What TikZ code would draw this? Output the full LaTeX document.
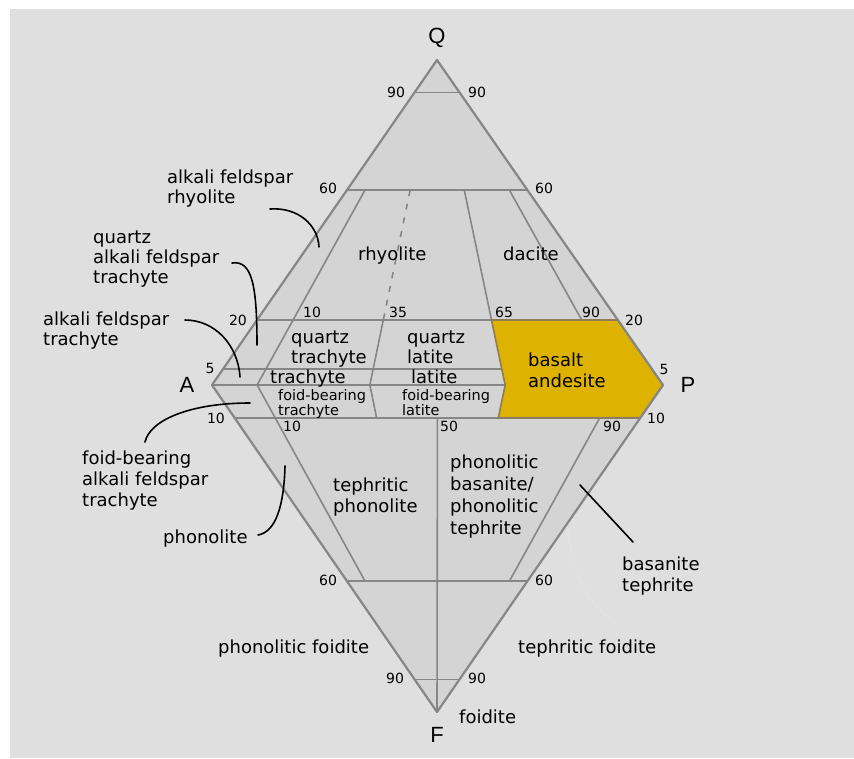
\documentclass[tikz,border=0pt]{standalone}
\usepackage{fontspec}
\setmainfont{DejaVu Sans}
\newfontfamily\vertexfont{Liberation Sans}
\usetikzlibrary{calc}
\definecolor{paper}{HTML}{DFDFDF}
\definecolor{field}{HTML}{D4D4D4}
\definecolor{rule}{HTML}{868686}
\definecolor{gold}{HTML}{DEB200}
\definecolor{goldrule}{HTML}{8C7D55}
\newcommand\mlstack[1]{\begin{tabular}[t]{@{}l@{}}#1\end{tabular}}

\begin{document}
\begin{tikzpicture}[x=1pt,y=-1pt,
  edge/.style={draw=rule, line width=2.2pt, line join=round},
  div/.style={draw=rule, line width=1.6pt},
  num/.style={font=\fontsize{14}{14}\selectfont, inner sep=0},
  lab/.style={font=\fontsize{18}{21}\selectfont, inner sep=0, anchor=base west},
  labtight/.style={font=\fontsize{18}{20}\selectfont, inner sep=0, anchor=base west},
  labwide/.style={font=\fontsize{18}{22}\selectfont, inner sep=0, anchor=base west},
  small/.style={font=\fontsize{14.5}{14}\selectfont, inner sep=0, anchor=base west},
  vtx/.style={font=\vertexfont\fontsize{22}{22}\selectfont, inner sep=0},
  lead/.style={draw=black, line width=1.6pt, line cap=round},
]
% canvas
\useasboundingbox (0,0) rectangle (854,758);
\fill[white] (0,0) rectangle (854,758);
\fill[paper] (10,9) rectangle (854,758);

% corners of the QAPF diamond
\coordinate (Q) at (437,60);
\coordinate (A) at (212,385);
\coordinate (P) at (663,385);
\coordinate (F) at (437,712);

% points on the A-P join for P/(A+P) ratios
\coordinate (b10) at ($(A)!0.10!(P)$);
\coordinate (b35) at ($(A)!0.35!(P)$);
\coordinate (b50) at ($(A)!0.50!(P)$);
\coordinate (b65) at ($(A)!0.65!(P)$);
\coordinate (b90) at ($(A)!0.90!(P)$);

% Q levels on the edges
\coordinate (q90L) at ($(Q)!0.10!(A)$);  \coordinate (q90R) at ($(Q)!0.10!(P)$);
\coordinate (q60L) at ($(Q)!0.40!(A)$);  \coordinate (q60R) at ($(Q)!0.40!(P)$);
\coordinate (q20L) at ($(Q)!0.80!(A)$);  \coordinate (q20R) at ($(Q)!0.80!(P)$);
\coordinate (q5L)  at ($(Q)!0.95!(A)$);
% F levels on the edges
\coordinate (f10L) at ($(F)!0.90!(A)$);  \coordinate (f10R) at ($(F)!0.90!(P)$);
\coordinate (f60L) at ($(F)!0.40!(A)$);  \coordinate (f60R) at ($(F)!0.40!(P)$);
\coordinate (f90L) at ($(F)!0.10!(A)$);  \coordinate (f90R) at ($(F)!0.10!(P)$);

% ratio lines in the upper triangle
\coordinate (u10a) at ($(Q)!0.40!(b10)$);
\coordinate (u35a) at ($(Q)!0.40!(b35)$);  \coordinate (u35b) at ($(Q)!0.80!(b35)$);
\coordinate (u65a) at ($(Q)!0.40!(b65)$);  \coordinate (u65b) at ($(Q)!0.80!(b65)$);
\coordinate (u65c) at ($(Q)!0.95!(b65)$);
\coordinate (u90a) at ($(Q)!0.40!(b90)$);  \coordinate (u90b) at ($(Q)!0.80!(b90)$);
% ratio lines in the lower triangle
\coordinate (l10b) at ($(F)!0.40!(b10)$);
\coordinate (l35a) at ($(F)!0.90!(b35)$);
\coordinate (l50a) at ($(F)!0.90!(b50)$);
\coordinate (l65a) at ($(F)!0.90!(b65)$);
\coordinate (l90a) at ($(F)!0.90!(b90)$);  \coordinate (l90b) at ($(F)!0.40!(b90)$);

% fills
\fill[field] (Q) -- (P) -- (F) -- (A) -- cycle;
\fill[gold] (u65b) -- (q20R) -- (P) -- (f10R) -- (l65a) -- (b65) -- cycle;

% faint smudge in the basanite field
\draw[white!30!field, line width=3.5pt, line cap=round]
  (567,528) .. controls (572,560) and (578,588) .. (600,610)
            .. controls (607,617) and (613,621) .. (615,624);

% field boundaries
\draw[div] (q90L) -- (q90R);
\draw[div] (q60L) -- (q60R);
\draw[div] (q20L) -- (q20R);
\draw[div] (q5L) -- (u65c);
\draw[div] (A) -- (b65);
\draw[div] (f10L) -- (f10R);
\draw[div] (f60L) -- (f60R);
\draw[div] (f90L) -- (f90R);
\draw[div] (u10a) -- (b10) -- (l10b);
\draw[div, dash pattern=on 6pt off 8pt] (u35a) -- (u35b);
\draw[div] (u35b) -- (b35) -- (l35a);
\draw[div] (u65a) -- (u65b);
\draw[div] (u90a) -- (u90b);
\draw[div] (l90a) -- (l90b);
\draw[div] (l50a) -- (F);
\draw[draw=goldrule, line width=1.6pt, line join=round]
  (u65b) -- (q20R) -- (P) -- (f10R) -- (l65a) -- (b65) -- cycle;
\draw[edge] (Q) -- (P) -- (F) -- (A) -- cycle;

% corner letters
\node[vtx] (lQ) at (437,38) {Q};
\node[vtx] (lA) at (187,385) {A};
\node[vtx] (lP) at (688,385) {P};
\node[vtx] (lF) at (437,735) {F};

% scale values
\node[num] (n90ul) at (396,92) {90};
\node[num] (n90ur) at (477,92) {90};
\node[num] (n60ul) at (328,188) {60};
\node[num] (n60ur) at (544,188) {60};
\node[num] (n20l) at (238,320) {20};
\node[num] (n20r) at (634,320) {20};
\node[num] (n5l) at (210,368) {5};
\node[num] (n5r) at (664,369) {5};
\node[num] (n10l) at (216,418) {10};
\node[num] (n10r) at (656,418) {10};
\node[num] (r10u) at (312,312) {10};
\node[num] (r35u) at (398,312) {35};
\node[num] (r65u) at (504,312) {65};
\node[num] (r90u) at (591,312) {90};
\node[num] (r10d) at (292,426) {10};
\node[num] (r50d) at (449,426) {50};
\node[num] (r90d) at (612,426) {90};
\node[num] (n60ll) at (328,580) {60};
\node[num] (n60lr) at (544,580) {60};
\node[num] (n90ll) at (395,678) {90};
\node[num] (n90lr) at (477,678) {90};

% field names
\node[lab] (trhy) at (358,260) {rhyolite};
\node[lab] (tdac) at (503,260) {dacite};
\node[labtight] (tqtr) at (291,343) {\mlstack{quartz\\trachyte}};
\node[labtight] (tqla) at (407,343) {\mlstack{quartz\\latite}};
\node[lab] (ttra) at (270,383) {trachyte};
\node[lab] (tlat) at (411,383) {latite};
\node[small] (tfbt) at (278,400) {\mlstack{foid-bearing\\trachyte}};
\node[small] (tfbl) at (402,400) {\mlstack{foid-bearing\\latite}};
\node[lab] (tbas) at (528,366) {\mlstack{basalt\\andesite}};
\node[lab] (ttph) at (333,491) {\mlstack{tephritic\\phonolite}};
\node[labwide] (tpbt) at (450,468) {\mlstack{phonolitic\\basanite/\\phonolitic\\tephrite}};
\node[lab] (tbte) at (622,570) {\mlstack{basanite\\tephrite}};
\node[labtight] (tafr) at (167,183) {\mlstack{alkali feldspar\\rhyolite}};
\node[labtight] (tqaf) at (93,243) {\mlstack{quartz\\alkali feldspar\\trachyte}};
\node[labtight] (taft) at (43,325) {\mlstack{alkali feldspar\\trachyte}};
\node[lab] (tfaf) at (82,464) {\mlstack{foid-bearing\\alkali feldspar\\trachyte}};
\node[lab] (tpho) at (163,543) {phonolite};
\node[lab] (tpfo) at (218,653) {phonolitic foidite};
\node[lab] (ttfo) at (518,653) {tephritic foidite};
\node[lab] (tfoi) at (459,723) {foidite};

% leaders from outside names into their fields
\coordinate (e1) at (270,209); \coordinate (f1) at (319,247);
\coordinate (e2) at (232,263); \coordinate (f2) at (257,345);
\coordinate (e3) at (185,320); \coordinate (f3) at (240,377);
\coordinate (e4) at (145,442); \coordinate (f4) at (250,403);
\coordinate (e5) at (258,535); \coordinate (f5) at (285,466);
\coordinate (e6) at (633,542); \coordinate (f6) at (580,485);
\draw[lead] (e1) .. controls (298,207) and (318,225) .. (f1);
\draw[lead] (e2) .. controls (252,260) and (257,285) .. (f2);
\draw[lead] (e3) .. controls (215,320) and (238,345) .. (f3);
\draw[lead] (e4) .. controls (150,420) and (190,403) .. (f4);
\draw[lead] (e5) .. controls (276,532) and (284,505) .. (f5);
\draw[lead] (e6) -- (f6);
\end{tikzpicture}
\end{document}
